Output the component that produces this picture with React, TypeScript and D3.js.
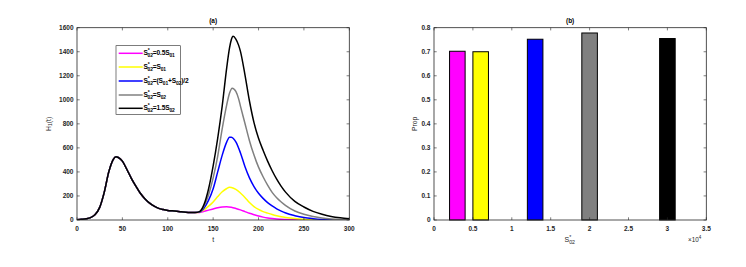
import React from "react";
import * as d3 from "d3";

// ---------- Data ----------
// Shared first wave (all scenarios coincide up to t ≈ 133)
const T_WAVE1 = [0, 5, 10, 15, 20, 25, 30, 35, 40, 43, 45, 50, 55, 60, 65, 70, 75, 80, 85, 90, 95, 100, 105, 110, 115, 120, 125, 130];
const H_WAVE1 = [3, 6, 10, 20, 45, 105, 230, 400, 505, 527, 522, 490, 420, 345, 280, 220, 175, 140, 115, 97, 87, 80, 76, 72, 68, 65, 63, 62];

// Second wave per scenario
const T_MAGENTA = [135, 140, 145, 150, 155, 160, 165, 170, 175, 180, 185, 190, 195, 200, 205, 210, 215, 220, 230, 240, 250, 270, 300];
const H_MAGENTA = [63, 72, 82, 92, 102, 109, 111, 106, 96, 84, 70, 56, 44, 33, 24, 17, 12, 8, 4, 2, 1, 0.3, 0];

const T_YELLOW = [135, 140, 145, 150, 155, 160, 165, 168, 170, 175, 180, 185, 190, 195, 200, 205, 210, 215, 220, 225, 230, 240, 250, 260, 270, 280, 300];
const H_YELLOW = [65, 85, 115, 150, 195, 235, 262, 272, 270, 255, 225, 188, 145, 112, 88, 70, 57, 45, 35, 27, 21, 12, 6, 3, 1.5, 0.5, 0];

const T_BLUE = [135, 140, 145, 150, 155, 160, 165, 168, 170, 175, 180, 185, 190, 195, 200, 205, 210, 215, 220, 225, 230, 240, 250, 260, 270, 280, 300];
const H_BLUE = [66, 100, 165, 260, 400, 540, 650, 689, 688, 650, 560, 445, 350, 278, 222, 180, 145, 117, 93, 74, 58, 36, 20, 11, 5, 2, 0];

const T_GRAY = [135, 140, 145, 150, 155, 160, 165, 168, 171, 175, 178, 180, 185, 190, 195, 200, 205, 210, 215, 220, 225, 230, 240, 250, 260, 270, 280, 290, 300];
const H_GRAY = [68, 115, 210, 350, 530, 760, 960, 1055, 1097, 1070, 1010, 950, 805, 660, 540, 440, 360, 290, 230, 185, 150, 120, 75, 48, 30, 17, 9, 4, 2];

const T_BLACK = [135, 140, 145, 150, 155, 160, 165, 168, 170, 172, 175, 178, 180, 185, 190, 195, 200, 205, 210, 215, 220, 225, 230, 240, 250, 260, 270, 280, 290, 300];
const H_BLACK = [70, 130, 260, 450, 680, 950, 1270, 1430, 1500, 1528, 1505, 1455, 1405, 1210, 990, 810, 680, 580, 490, 410, 340, 280, 230, 155, 108, 72, 48, 30, 18, 10];

const SERIES_COLORS = ["#ff00ff", "#ffff00", "#0000ff", "#808080", "#000000"];

type Part = { t?: string; sub?: string; sup?: string };
const S02_PARTS: Part[] = [{ t: "S" }, { sup: "*", sub: "02" }];
const LEGEND_LABELS: Part[][] = [
  [...S02_PARTS, { t: "=0.5S" }, { sub: "01" }],
  [...S02_PARTS, { t: "=S" }, { sub: "01" }],
  [...S02_PARTS, { t: "=(S" }, { sub: "01" }, { t: "+S" }, { sub: "02" }, { t: ")/2" }],
  [...S02_PARTS, { t: "=S" }, { sub: "02" }],
  [...S02_PARTS, { t: "=1.5S" }, { sub: "02" }],
];

const LEFT_X_TICKS = [0, 50, 100, 150, 200, 250, 300];
const LEFT_Y_TICKS = [0, 200, 400, 600, 800, 1000, 1200, 1400, 1600];

// Panel (b)
const BAR_X = [3000, 6000, 13000, 20000, 30000];
const BAR_PROP = [0.702, 0.7, 0.752, 0.778, 0.755];
const BAR_WIDTH = 2000;
const RIGHT_X_TICKS = [0, 0.5, 1, 1.5, 2, 2.5, 3, 3.5];
const RIGHT_Y_TICKS = [0, 0.1, 0.2, 0.3, 0.4, 0.5, 0.6, 0.7, 0.8];

// ---------- Layout ----------
const W = 746, H = 267;
const TOP = 27.7, BOTTOM = 220;
const L1 = 77, R1 = 349.3;
const L2 = 434, R2 = 706.3;
const FONT = "'Liberation Sans', Arial, Helvetica, sans-serif";
const FS = 6.5;
const AX = "#262626";
const TICK = 2.7;

function buildSeries() {
  const ts = [T_MAGENTA, T_YELLOW, T_BLUE, T_GRAY, T_BLACK];
  const hs = [H_MAGENTA, H_YELLOW, H_BLUE, H_GRAY, H_BLACK];
  return ts.map((t, i) => {
    const pts: [number, number][] = T_WAVE1.map((x, j) => [x, H_WAVE1[j]]);
    t.forEach((x, j) => pts.push([x, hs[i][j]]));
    return pts;
  });
}

// Rich text: every tspan gets an absolute y so nothing accumulates
function rich(parts: Part[], x: number, y: number, fs: number) {
  const out: any[] = [];
  const small = fs * 0.75;
  parts.forEach((p, k) => {
    if (p.t !== undefined) {
      out.push(<tspan key={k + "t"} y={y} fontSize={fs} {...(k === 0 ? { x } : {})}>{p.t}</tspan>);
    } else {
      if (p.sup) {
        out.push(<tspan key={k + "p"} y={y - fs * 0.4} fontSize={small}>{p.sup}</tspan>);
        out.push(<tspan key={k + "s"} dx={-small * 0.39} y={y + fs * 0.3} fontSize={small}>{p.sub}</tspan>);
      } else {
        out.push(<tspan key={k + "s"} y={y + fs * 0.3} fontSize={small}>{p.sub}</tspan>);
      }
    }
  });
  return out;
}

export default function App() {
  const x1 = d3.scaleLinear().domain([0, 300]).range([L1, R1]);
  const y1 = d3.scaleLinear().domain([0, 1600]).range([BOTTOM, TOP]);
  const x2 = d3.scaleLinear().domain([0, 35000]).range([L2, R2]);
  const y2 = d3.scaleLinear().domain([0, 0.8]).range([BOTTOM, TOP]);

  const line = d3
    .line<[number, number]>()
    .x((d) => x1(d[0]))
    .y((d) => y1(Math.max(0, d[1])))
    .curve(d3.curveMonotoneX);

  const series = buildSeries();

  const frame = (l: number, r: number) => (
    <rect x={l} y={TOP} width={r - l} height={BOTTOM - TOP} fill="none" stroke={AX} strokeWidth={0.8} />
  );

  const legendX = 116, legendY = 45.7, legendW = 64.3, legendH = 68.6;
  const rowY = [53.3, 67, 81, 95, 108.3];

  return (
    <svg width={W} height={H} style={{ position: "absolute", left: 0, top: 0, background: "#fff" }} fontFamily={FONT}>
      <rect x={0} y={0} width={W} height={H} fill="#fff" />
      <defs>
        <clipPath id="clipA">
          <rect x={L1} y={TOP - 2} width={R1 - L1} height={BOTTOM - TOP + 2} />
        </clipPath>
      </defs>

      {/* ---------- Panel (a) ---------- */}
      <g clipPath="url(#clipA)">
        {series.map((pts, i) => (
          <path key={i} d={line(pts) || ""} fill="none" stroke={SERIES_COLORS[i]} strokeWidth={1.5} strokeLinejoin="round" />
        ))}
      </g>
      {frame(L1, R1)}
      {LEFT_X_TICKS.map((t) => (
        <g key={"ax" + t}>
          <line x1={x1(t)} x2={x1(t)} y1={BOTTOM} y2={BOTTOM - TICK} stroke={AX} strokeWidth={0.6} />
          <line x1={x1(t)} x2={x1(t)} y1={TOP} y2={TOP + TICK} stroke={AX} strokeWidth={0.6} />
          <text x={x1(t)} y={230.5} fontSize={FS} fontWeight="bold" fill={AX} textAnchor="middle">{t}</text>
        </g>
      ))}
      {LEFT_Y_TICKS.map((v) => (
        <g key={"ay" + v}>
          <line x1={L1} x2={L1 + TICK} y1={y1(v)} y2={y1(v)} stroke={AX} strokeWidth={0.6} />
          <line x1={R1} x2={R1 - TICK} y1={y1(v)} y2={y1(v)} stroke={AX} strokeWidth={0.6} />
          <text x={L1 - 3.5} y={y1(v) + 2.3} fontSize={FS} fontWeight="bold" fill={AX} textAnchor="end">{v}</text>
        </g>
      ))}
      <text x={(L1 + R1) / 2} y={22.5} fontSize={FS} fontWeight="bold" fill="#000" textAnchor="middle">(a)</text>
      <text x={(L1 + R1) / 2} y={242} fontSize={7} fill={AX} textAnchor="middle">t</text>
      <text transform={`translate(50.5,${(TOP + BOTTOM) / 2}) rotate(-90)`} fontSize={6.8} fill={AX} textAnchor="middle">
        H<tspan fontSize={5} dy={1.8}>1</tspan><tspan dy={-1.8}>(t)</tspan>
      </text>

      {/* Legend */}
      <rect x={legendX} y={legendY} width={legendW} height={legendH} fill="#fff" stroke={AX} strokeWidth={0.6} />
      {SERIES_COLORS.map((c, i) => (
        <g key={"lg" + i}>
          <line x1={118.7} x2={142.7} y1={rowY[i]} y2={rowY[i]} stroke={c} strokeWidth={1.5} />
          <text fontWeight="bold" fill="#000" letterSpacing={-0.15}>
            {rich(LEGEND_LABELS[i], 143.5, rowY[i] + 1.8, 6.6)}
          </text>
        </g>
      ))}

      {/* ---------- Panel (b) ---------- */}
      {BAR_X.map((bx, i) => (
        <rect
          key={"bar" + i}
          x={x2(bx - BAR_WIDTH / 2)}
          y={y2(BAR_PROP[i])}
          width={x2(bx + BAR_WIDTH / 2) - x2(bx - BAR_WIDTH / 2)}
          height={y2(0) - y2(BAR_PROP[i])}
          fill={SERIES_COLORS[i]}
          stroke="#000"
          strokeWidth={1}
        />
      ))}
      {frame(L2, R2)}
      {RIGHT_X_TICKS.map((t) => (
        <g key={"bx" + t}>
          <line x1={x2(t * 10000)} x2={x2(t * 10000)} y1={BOTTOM} y2={BOTTOM - TICK} stroke={AX} strokeWidth={0.6} />
          <line x1={x2(t * 10000)} x2={x2(t * 10000)} y1={TOP} y2={TOP + TICK} stroke={AX} strokeWidth={0.6} />
          <text x={x2(t * 10000)} y={230.5} fontSize={FS} fontWeight="bold" fill={AX} textAnchor="middle">{t}</text>
        </g>
      ))}
      {RIGHT_Y_TICKS.map((v) => (
        <g key={"by" + v}>
          <line x1={L2} x2={L2 + TICK} y1={y2(v)} y2={y2(v)} stroke={AX} strokeWidth={0.6} />
          <line x1={R2} x2={R2 - TICK} y1={y2(v)} y2={y2(v)} stroke={AX} strokeWidth={0.6} />
          <text x={L2 - 3.5} y={y2(v) + 2.3} fontSize={FS} fontWeight="bold" fill={AX} textAnchor="end">{v}</text>
        </g>
      ))}
      <text x={(L2 + R2) / 2} y={22.5} fontSize={FS} fontWeight="bold" fill="#000" textAnchor="middle">(b)</text>
      <text transform={`translate(416.5,${(TOP + BOTTOM) / 2}) rotate(-90)`} fontSize={6.8} fill={AX} textAnchor="middle">Prop</text>
      <text fill={AX}>
        {rich(S02_PARTS, 564.5, 242, 7)}
      </text>
      <text x={688} y={241.5} fontSize={6.3} fill={AX}>
        ×10<tspan fontSize={4.5} dy={-2.8}>4</tspan>
      </text>
    </svg>
  );
}
